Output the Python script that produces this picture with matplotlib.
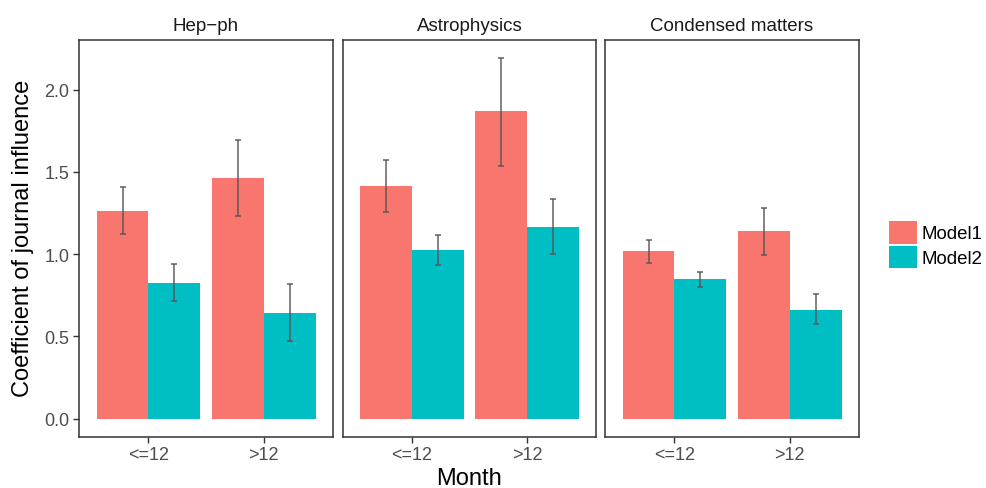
import matplotlib.pyplot as plt
from matplotlib.patches import Patch

plt.rcParams['font.family'] = ['Liberation Sans', 'DejaVu Sans']

fields = ['Hep\u2212ph', 'Astrophysics', 'Condensed matters']
months = ['<=12', '>12']
models = ['Model1', 'Model2']
colors = ['#F8766D', '#00BFC4']

# means per field: [Model1 (<=12, >12), Model2 (<=12, >12)]
means = {
    'Hep\u2212ph': [[1.262, 1.462], [0.826, 0.644]],
    'Astrophysics': [[1.414, 1.868], [1.026, 1.165]],
    'Condensed matters': [[1.020, 1.141], [0.850, 0.662]],
}
lower = {
    'Hep\u2212ph': [[1.123, 1.230], [0.713, 0.473]],
    'Astrophysics': [[1.256, 1.537], [0.931, 1.002]],
    'Condensed matters': [[0.949, 0.994], [0.802, 0.573]],
}
upper = {
    'Hep\u2212ph': [[1.408, 1.693], [0.942, 0.818]],
    'Astrophysics': [[1.573, 2.194], [1.119, 1.335]],
    'Condensed matters': [[1.088, 1.283], [0.894, 0.755]],
}

W, H = 986, 489
fig = plt.figure(figsize=(W / 100, H / 100), dpi=100)

lefts = [79.3, 342.7, 605.3]
top, bottom, pw = 40.7, 437.7, 253.5

for i, field in enumerate(fields):
    ax = fig.add_axes([lefts[i] / W, 1 - bottom / H, pw / W, (bottom - top) / H])
    for m in range(2):
        xs = [k + 1 + (m - 0.5) * 0.45 for k in range(2)]
        vals = means[field][m]
        lo = [v - l for v, l in zip(vals, lower[field][m])]
        hi = [u - v for v, u in zip(vals, upper[field][m])]
        ax.bar(xs, vals, width=0.45, color=colors[m], linewidth=0)
        ax.errorbar(xs, vals, yerr=[lo, hi], fmt='none', ecolor='#555555',
                    alpha=0.85, elinewidth=1.2, capsize=2.0, capthick=1.2)
    ax.set_xlim(0.4, 2.6)
    ax.set_ylim(-0.11, 2.304)
    ax.set_xticks([1, 2])
    ax.set_xticklabels(months)
    ax.set_yticks([0, 0.5, 1.0, 1.5, 2.0])
    if i == 0:
        ax.set_yticklabels(['0.0', '0.5', '1.0', '1.5', '2.0'])
    else:
        ax.tick_params(axis='y', left=False, labelleft=False)
    ax.tick_params(colors='#333333', labelcolor='#4d4d4d', labelsize=13,
                   length=4, width=1, pad=3)
    for s in ax.spines.values():
        s.set_color('#333333')
        s.set_linewidth(1.1)
    ax.set_title(field, fontsize=13.5, color='#1a1a1a', pad=7)

fig.text(23 / W, 1 - 238.5 / H, 'Coefficient of journal influence', rotation=90,
         ha='center', va='center', fontsize=17)
fig.text(468.7 / W, 1 - 485.5 / H, 'Month', ha='center', va='baseline', fontsize=17)

handles = [Patch(facecolor=c, edgecolor='none', label=l) for c, l in zip(colors, models)]
fig.legend(handles=handles, loc='upper left', bbox_to_anchor=(889 / W, 1 - 222 / H),
           frameon=False, fontsize=13.4, handlelength=1.5, handleheight=1.5,
           handletextpad=0.25, labelspacing=0.1, borderpad=0, borderaxespad=0)

fig.savefig('out.png', dpi=100)
